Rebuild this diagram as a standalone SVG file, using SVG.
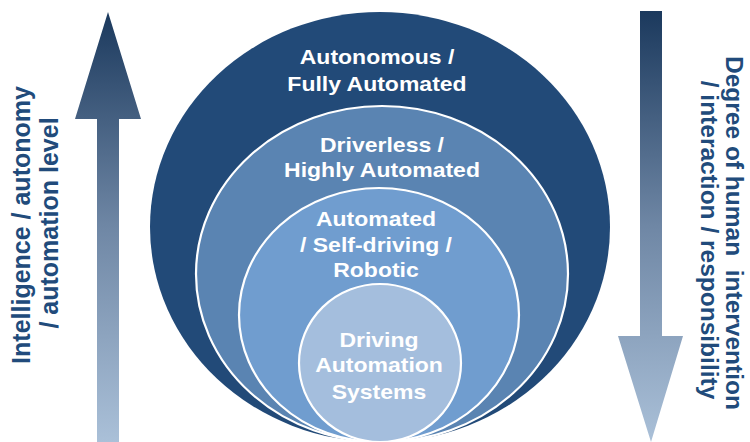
<svg xmlns="http://www.w3.org/2000/svg" width="750" height="442" viewBox="0 0 750 442">
<defs>
<linearGradient id="gArrow" x1="0" y1="0" x2="0" y2="1">
<stop offset="0" stop-color="#1b395d"/>
<stop offset="0.5" stop-color="#6f87a5"/>
<stop offset="1" stop-color="#aac0d8"/>
</linearGradient>
<style>
.lbl{font-family:"Liberation Sans",Arial,sans-serif;font-weight:bold;font-size:21px;fill:#ffffff;text-anchor:middle}
.side{font-family:"Liberation Sans",Arial,sans-serif;font-weight:bold;font-size:25px;fill:#214b7b;text-anchor:middle}
.sideR{font-size:24.5px}
.ring{stroke:#ffffff;stroke-width:2.2}
</style>
</defs>
<rect width="750" height="442" fill="#ffffff"/>
<g id="arrows">
<polygon id="arrow-up" points="108,12 141,119 119,119 119,442 97,442 97,119 75,119" fill="url(#gArrow)"/>
<polygon id="arrow-down" points="640,11 662,11 662,336 683,336 651,442 618,336 640,336" fill="url(#gArrow)"/>
</g>
<g id="node-autonomous">
<ellipse cx="380" cy="227" rx="230" ry="215" fill="#224a78"/>
<text class="lbl" transform="translate(377,0) scale(1.095,1)"><tspan x="0" y="64">Autonomous /</tspan><tspan x="0" y="91">Fully Automated</tspan></text>
</g>
<g id="node-driverless">
<ellipse class="ring" cx="382" cy="274" rx="186" ry="168" fill="#5a84b2"/>
<text class="lbl" transform="translate(382,0) scale(1.095,1)"><tspan x="0" y="152">Driverless /</tspan><tspan x="0" y="177">Highly Automated</tspan></text>
</g>
<g id="node-automated">
<ellipse class="ring" cx="379" cy="315" rx="140" ry="127" fill="#709dcf"/>
<text class="lbl" transform="translate(376,0) scale(1.095,1)"><tspan x="0" y="226">Automated</tspan><tspan x="0" y="252">/ Self-driving /</tspan><tspan x="0" y="277">Robotic</tspan></text>
</g>
<g id="node-driving">
<ellipse class="ring" cx="380" cy="363" rx="81" ry="79" fill="#a4bedd"/>
<text class="lbl" transform="translate(379,0) scale(1.095,1)"><tspan x="0" y="347">Driving</tspan><tspan x="0" y="372">Automation</tspan><tspan x="0" y="399">Systems</tspan></text>
</g>
<g id="label-left">
<text class="side" transform="translate(30,225) rotate(-90)" x="0" y="0">Intelligence / autonomy</text>
<text class="side" transform="translate(58,223) rotate(-90)" x="0" y="0">/ automation level</text>
</g>
<g id="label-right">
<text class="side sideR" transform="translate(726,233) rotate(90)" x="0" y="0" xml:space="preserve">Degree of human  intervention</text>
<text class="side sideR" transform="translate(701,240) rotate(90)" x="0" y="0">/ interaction / responsibility</text>
</g>
</svg>
